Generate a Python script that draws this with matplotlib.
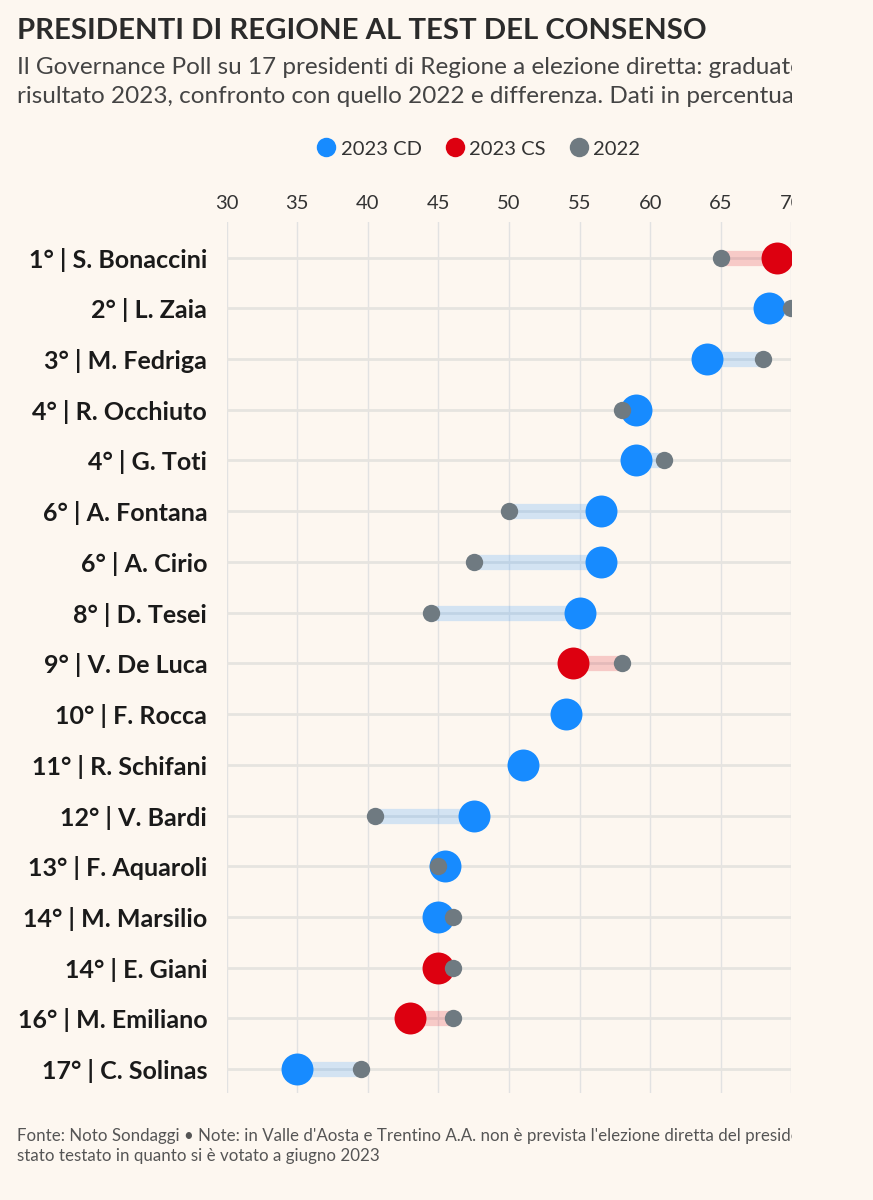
import matplotlib.pyplot as plt
from matplotlib.lines import Line2D
from matplotlib.patches import Rectangle

# data
names = ['1° | S. Bonaccini', '2° | L. Zaia', '3° | M. Fedriga', '4° | R. Occhiuto',
         '4° | G. Toti', '6° | A. Fontana', '6° | A. Cirio', '8° | D. Tesei',
         '9° | V. De Luca', '10° | F. Rocca', '11° | R. Schifani', '12° | V. Bardi',
         '13° | F. Aquaroli', '14° | M. Marsilio', '14° | E. Giani', '16° | M. Emiliano',
         '17° | C. Solinas']
v2023 = [69, 68.4, 64, 59, 59, 56.5, 56.5, 55, 54.5, 54, 51, 47.5, 45.5, 45, 45, 43, 35]
v2022 = [65, 70, 68, 58, 61, 50, 47.5, 44.5, 58, None, None, 40.5, 45, 46, 46, 46, 39.5]
camp = ['CS', 'CD', 'CD', 'CD', 'CD', 'CD', 'CD', 'CD', 'CS', 'CD', 'CD', 'CD',
        'CD', 'CD', 'CS', 'CS', 'CD']
xticks = [30, 35, 40, 45, 50, 55, 60, 65, 70]

BG = '#fdf7f0'
BLUE = '#178bff'
RED = '#dd0010'
GREY = '#6f7a81'
FONT = 'Lato'

W, H = 873, 1200
fig = plt.figure(figsize=(W / 100, H / 100), dpi=100, facecolor=BG)
ax = fig.add_axes([226.6 / W, 1 - 1093 / H, (791.5 - 226.6) / W, (1093 - 222) / H])
ax.set_facecolor(BG)

ys = list(range(1, len(names) + 1))
for y, a, b, c in zip(ys, v2023, v2022, camp):
    col = BLUE if c == 'CD' else RED
    if b is not None:
        ax.plot([a, b], [y, y], color=col, alpha=0.18, lw=11, solid_capstyle='butt', zorder=2)
    ax.plot(a, y, 'o', color=col, ms=23, mec='none', zorder=3)
    if b is not None:
        ax.plot(b, y, 'o', color=GREY, ms=12.5, mec='none', zorder=4)

ax.set_xlim(30, 30 + (791.5 - 226.6) / 14.163)
ax.set_ylim(17.47, 0.30)
for x in xticks:
    ax.axvline(x, color='#e2e2e2', lw=1, zorder=0)
for y in ys:
    ax.axhline(y, color='#e6e4e0', lw=2, zorder=1)

ax.xaxis.tick_top()
ax.set_xticks(xticks)
ax.set_xticklabels([str(x) for x in xticks], fontsize=14.5, color='#333333', family=FONT)
ax.tick_params(axis='x', length=0, pad=7)
ax.set_yticks(ys)
ax.set_yticklabels(names, fontsize=18, fontweight='bold', color='#1a1a1a', family=FONT)
ax.tick_params(axis='y', length=0, pad=14)
for s in ax.spines.values():
    s.set_visible(False)

fig.text(17 / W, 1 - 39 / H, 'PRESIDENTI DI REGIONE AL TEST DEL CONSENSO', fontsize=21.2,
         fontweight='bold', color='#2b2b2b', family=FONT, va='baseline')
fig.text(17 / W, 1 - 74 / H, 'Il Governance Poll su 17 presidenti di Regione a elezione diretta: graduatoria',
         fontsize=17.5, color='#444444', family=FONT, va='baseline')
fig.text(17 / W, 1 - 103 / H, 'risultato 2023, confronto con quello 2022 e differenza. Dati in percentuale',
         fontsize=17.5, color='#444444', family=FONT, va='baseline')

handles = [Line2D([], [], marker='o', ls='none', color=c, ms=14, mec='none')
           for c in (BLUE, RED, GREY)]
fig.legend(handles, ['2023 CD', '2023 CS', '2022'], loc='center', bbox_to_anchor=(479 / W, 1 - 149 / H),
           ncol=3, frameon=False, handlelength=0.8, handletextpad=0.3, columnspacing=1.25,
           prop={'family': FONT, 'size': 14.5}, labelcolor='#333333')

fig.text(17 / W, 1 - 1141 / H,
         "Fonte: Noto Sondaggi \u2022 Note: in Valle d'Aosta e Trentino A.A. non è prevista l'elezione diretta del presidente",
         fontsize=12.2, color='#555555', family=FONT, va='baseline')
fig.text(17 / W, 1 - 1161 / H, 'stato testato in quanto si è votato a giugno 2023',
         fontsize=12.2, color='#555555', family=FONT, va='baseline')

# the screenshot is cut on the right side
fig.add_artist(Rectangle((792 / W, 0), 1 - 792 / W, 1, transform=fig.transFigure,
                         facecolor=BG, edgecolor='none', zorder=50))

fig.savefig('out.png', dpi=100, facecolor=BG)
